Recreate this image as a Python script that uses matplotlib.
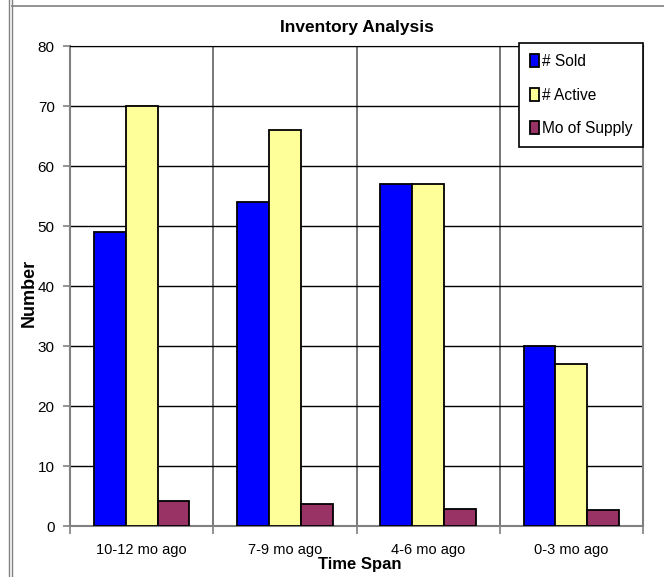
import numpy as np
import matplotlib.pyplot as plt
from matplotlib.lines import Line2D

# datos
categories = ['10-12 mo ago', '7-9 mo ago', '4-6 mo ago', '0-3 mo ago']
sold = [49, 54, 57, 30]
active = [70, 66, 57, 27]
supply = [4.2, 3.6, 2.9, 2.7]
series_names = ['# Sold', '# Active', 'Mo of Supply']
colors = ['#0000FF', '#FFFF99', '#993366']

plt.rcParams['font.family'] = ['Liberation Sans', 'DejaVu Sans']

fig = plt.figure(figsize=(6.64, 5.77), dpi=100)
ax = fig.add_axes([70 / 664, 1 - 526 / 577, 573 / 664, 480 / 577])

x = np.arange(len(categories))
w = 0.222
for i, (vals, name, c) in enumerate(zip([sold, active, supply], series_names, colors)):
    ax.bar(x + (i - 1) * w, vals, width=w, color=c, edgecolor='black',
           linewidth=1.3, label=name, zorder=3)

ax.set_xlim(-0.5, len(categories) - 0.5)
ax.set_ylim(0, 80)
ax.set_yticks(range(0, 81, 10))
ax.set_xticks(x)
ax.set_xticklabels(categories, fontsize=10.5)
ax.set_xticks(np.arange(-0.5, len(categories), 1), minor=True)
ax.tick_params(axis='x', which='major', length=0, pad=12)
ax.tick_params(axis='x', which='minor', length=6, color='#808080', width=1.2)
ax.tick_params(axis='y', length=5, color='#808080', width=1.2, labelsize=11, pad=6)

# rejilla
ax.grid(axis='y', color='black', linewidth=1, zorder=0)
ax.grid(axis='x', which='minor', color='#606060', linewidth=1.2, zorder=0)
for s in ['left', 'right', 'bottom']:
    ax.spines[s].set_color('#808080')
    ax.spines[s].set_linewidth(1.5)
ax.spines['top'].set_color('black')

ax.set_title('Inventory Analysis', fontsize=12.5, fontweight='bold', pad=10)
ax.set_ylabel('Number', fontsize=13, fontweight='bold')
ax.yaxis.set_label_coords(-0.056, 0.485)
ax.set_xlabel('Time Span', fontsize=12, fontweight='bold')
ax.xaxis.set_label_coords(0.506, -0.064)

leg = ax.legend(loc='upper right', bbox_to_anchor=(643 / 664, 1 - 43 / 577),
                bbox_transform=fig.transFigure, fancybox=False, framealpha=1,
                edgecolor='black', fontsize=11.2, handlelength=0.6, handleheight=0.9,
                handletextpad=0.15, labelspacing=1.2, borderpad=0.7,
                borderaxespad=0)
leg.get_frame().set_linewidth(1.2)
leg.set_zorder(5)

# bordes del area del grafico
fig.add_artist(Line2D([9 / 664, 9 / 664], [0, 1], color='#808080', linewidth=1))
fig.add_artist(Line2D([12 / 664, 12 / 664], [0, 1], color='#808080', linewidth=1))
fig.add_artist(Line2D([12 / 664, 1], [1 - 6 / 577, 1 - 6 / 577], color='#808080', linewidth=1.2))

# etiqueta cortada a la izquierda (como en el original)
fig.text(-3 / 664, 1 - 270 / 577, 'Number of Sales', rotation=90, color='#FF80FF',
         fontsize=11, fontweight='bold', ha='center', va='center')

fig.savefig('out.png', dpi=100)
